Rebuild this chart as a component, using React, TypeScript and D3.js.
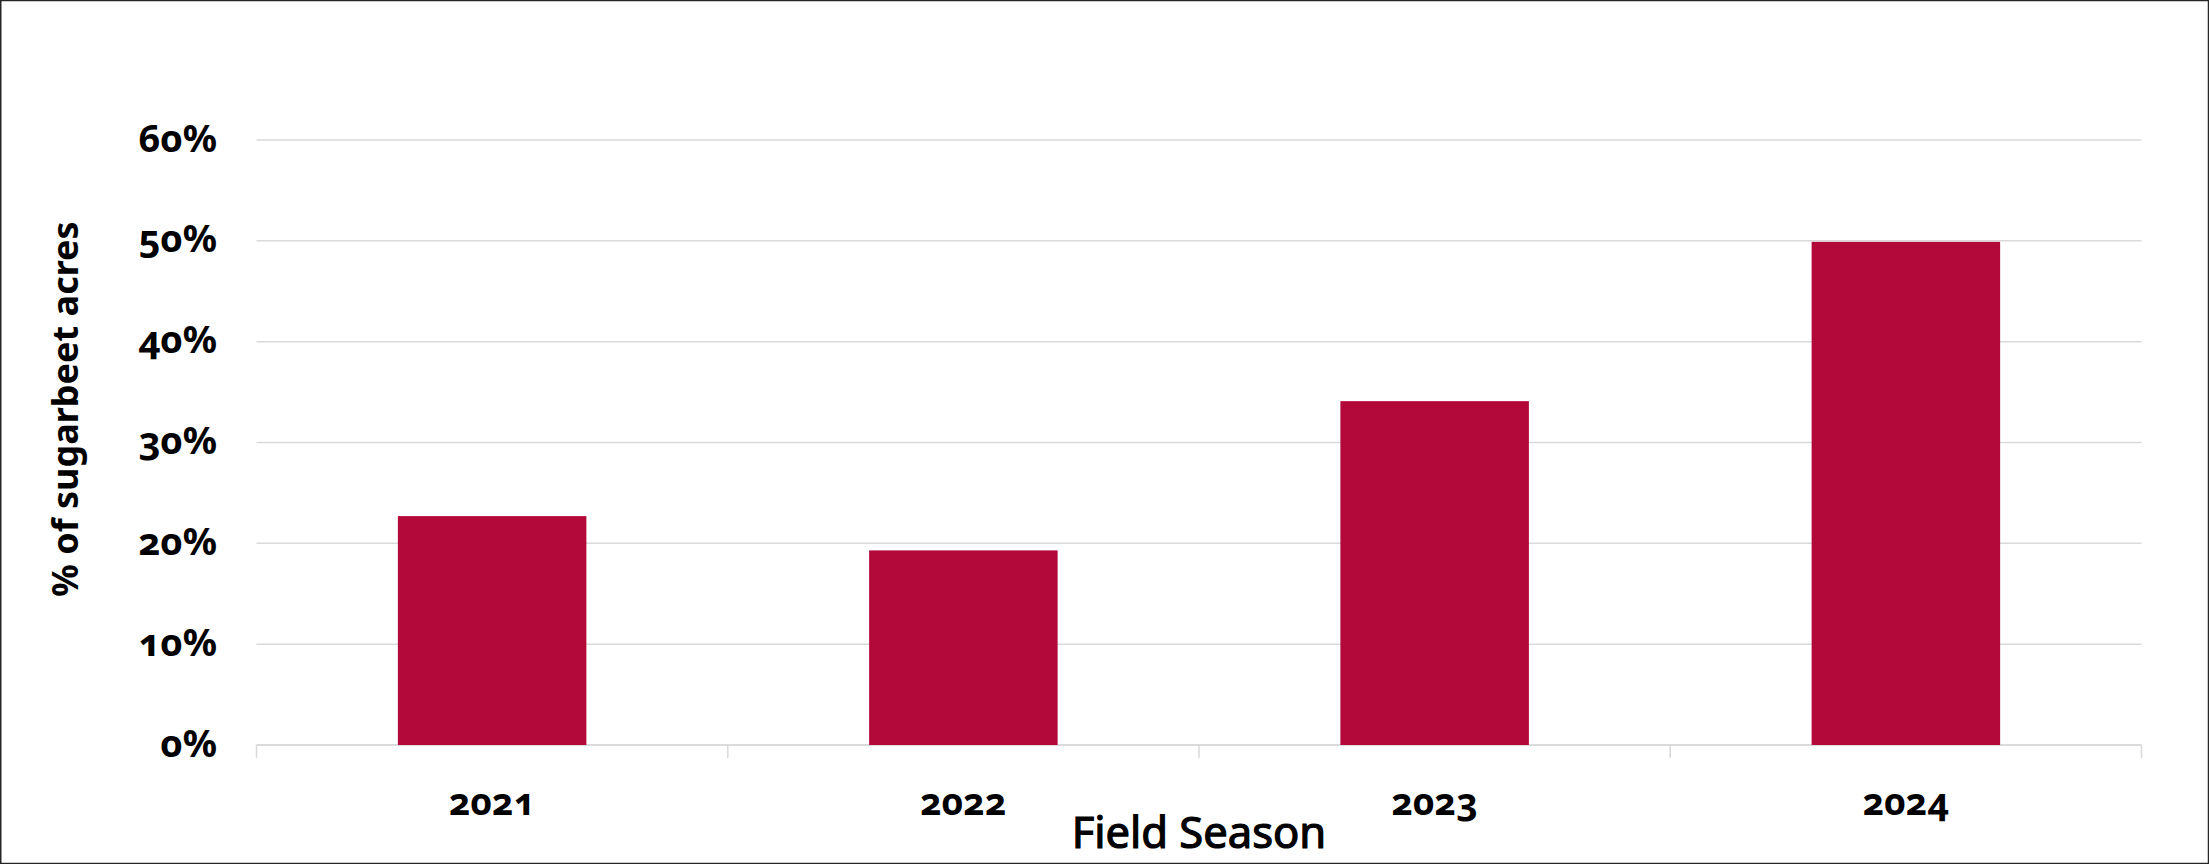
import React from "react";
import * as d3 from "d3";

// Share of sugarbeet acres by field season
const seasons = ["2021", "2022", "2023", "2024"];
const shares = [0.227, 0.193, 0.341, 0.499];
const yTicks = [0, 0.1, 0.2, 0.3, 0.4, 0.5, 0.6];

const W = 2209;
const H = 864;
const margin = { left: 256.5, right: 67.5, top: 140, bottom: 119 };

const BAR = "#b2083a";
const GRID = "#d9d9d9";
const FONT = "'Noto Sans', 'Open Sans', sans-serif";
const OLDSTYLE = { fontFeatureSettings: "'onum'", fontVariantNumeric: "oldstyle-nums" };

export default function App() {
  const x = d3
    .scaleBand<string>()
    .domain(seasons)
    .range([margin.left, W - margin.right])
    .paddingInner(0.6)
    .paddingOuter(0.3);
  const y = d3
    .scaleLinear()
    .domain([0, 0.6])
    .range([H - margin.bottom, margin.top]);

  const step = x.step();
  const boundaries = d3.range(seasons.length + 1).map((i) => margin.left + i * step);
  const pct = d3.format(".0%");
  const x0 = margin.left;
  const x1 = W - margin.right;
  const yBase = y(0);

  return (
    <svg
      width={W}
      height={H}
      style={{ position: "absolute", left: 0, top: 0, background: "#fff" }}
      fontFamily={FONT}
    >
      <rect x={0} y={0} width={W} height={H} fill="#fff" />
      {/* horizontal gridlines */}
      {yTicks.map((t) => (
        <line key={t} x1={x0} x2={x1} y1={y(t)} y2={y(t)} stroke={GRID} strokeWidth={1.5} />
      ))}
      {/* category axis and its tick marks */}
      <line x1={x0} x2={x1} y1={yBase} y2={yBase} stroke={GRID} strokeWidth={1.5} />
      {boundaries.map((b, i) => (
        <line key={i} x1={b} x2={b} y1={yBase} y2={yBase + 13} stroke={GRID} strokeWidth={1.5} />
      ))}
      {/* bars */}
      {seasons.map((s, i) => (
        <rect
          key={s}
          x={x(s)}
          y={y(shares[i])}
          width={x.bandwidth()}
          height={yBase - y(shares[i])}
          fill={BAR}
        />
      ))}
      {/* y tick labels */}
      {yTicks.map((t) => (
        <text
          key={t}
          x={217}
          y={y(t) + 11.5}
          textAnchor="end"
          fontSize={38}
          fontWeight="bold"
          fill="#000"
          style={OLDSTYLE}
        >
          {pct(t)}
        </text>
      ))}
      {/* x tick labels */}
      {seasons.map((s) => (
        <text
          key={s}
          x={(x(s) as number) + x.bandwidth() / 2}
          y={815}
          textAnchor="middle"
          fontSize={37}
          fontWeight="bold"
          fill="#000"
          style={OLDSTYLE}
        >
          {s}
        </text>
      ))}
      {/* axis titles */}
      <text
        transform={`translate(78, 409) rotate(-90)`}
        textAnchor="middle"
        fontSize={36}
        fontWeight="bold"
        fill="#000"
      >
        % of sugarbeet acres
      </text>
      <text
        x={(x0 + x1) / 2}
        y={848}
        textAnchor="middle"
        fontSize={43.5}
        fill="#000"
        stroke="#000"
        strokeWidth={1.2}
      >
        Field Season
      </text>
      {/* outer frame */}
      <rect x={0.75} y={0.5} width={W - 1.25} height={H - 1} fill="none" stroke="#262626" strokeWidth={1.5} />
    </svg>
  );
}
